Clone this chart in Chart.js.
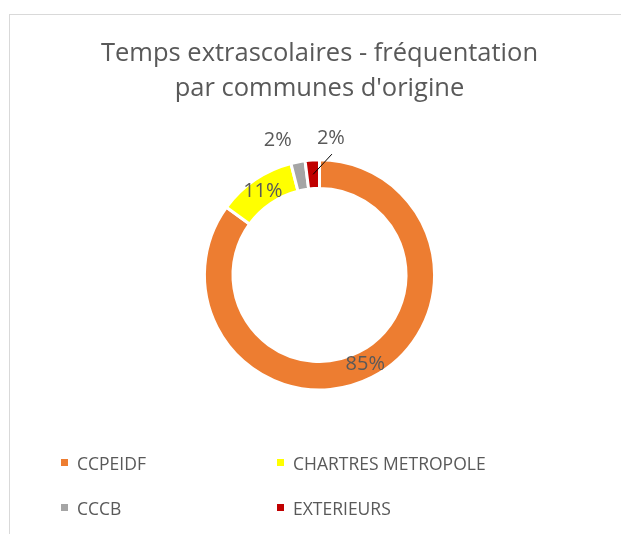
<!DOCTYPE html>
<html>
<head>
<meta charset="utf-8">
<script src="https://cdn.jsdelivr.net/npm/chart.js@4/dist/chart.umd.min.js"></script>
<style>
  html, body { margin: 0; padding: 0; background: #fff; }
  body { width: 621px; height: 534px; position: relative; overflow: hidden; font-family: "Open Sans", sans-serif; }
  #frame { position: absolute; left: 9px; top: 14px; width: 700px; height: 600px; border: 1px solid #d9d9d9; }
  #wrap { position: absolute; left: 9px; top: 0; width: 621px; height: 534px; }
  #legend { position: absolute; left: 61px; top: 440px; display: grid; grid-template-columns: 216px 216px; grid-auto-rows: 45px; color: #595959; font-size: 17.5px; }
  #legend .item { display: flex; align-items: center; }
  #legend .box { width: 7px; height: 7px; margin-right: 9px; }
</style>
</head>
<body>
<div id="frame"></div>
<div id="wrap"><canvas id="chart" width="621" height="534"></canvas></div>
<div id="legend"></div>
<script>
    // Données
    const titleLines = ['Temps extrascolaires - fréquentation', "par communes d'origine"];
    const communes = ['CCPEIDF', 'CHARTRES METROPOLE', 'CCCB', 'EXTERIEURS'];
    const pourcentages = [85, 11, 2, 2];
    const couleurs = ['#ED7D31', '#FFFF00', '#A5A5A5', '#C00000'];

    const textColor = '#595959';

    // Etiquettes de pourcentage (dans l'anneau, ou au-dessus pour les petites parts)
    const pctLabels = {
      id: 'pctLabels',
      afterDatasetsDraw(chart) {
        const ctx = chart.ctx;
        const meta = chart.getDatasetMeta(0);
        const data = chart.data.datasets[0].data;
        const total = data.reduce((a, b) => a + b, 0);
        let smallIndex = 0;
        ctx.save();
        ctx.font = '20px "Open Sans"';
        ctx.fillStyle = textColor;
        ctx.textAlign = 'center';
        ctx.textBaseline = 'middle';
        meta.data.forEach((arc, i) => {
          const p = arc.getProps(['x', 'y', 'startAngle', 'endAngle', 'innerRadius', 'outerRadius'], true);
          const mid = (p.startAngle + p.endAngle) / 2;
          const rMid = (p.innerRadius + p.outerRadius) / 2;
          const txt = Math.round(data[i] / total * 100) + '%';
          if (data[i] / total >= 0.05) {
            ctx.fillText(txt, p.x + Math.cos(mid) * rMid, p.y + Math.sin(mid) * rMid);
          } else {
            const rOut = p.outerRadius + 22;
            const shift = smallIndex === 0 ? -16 : 20;
            const lx = p.x + Math.cos(mid) * rOut + shift;
            const ly = p.y + Math.sin(mid) * rOut;
            ctx.fillText(txt, lx, ly);
            if (smallIndex > 0) {
              ctx.strokeStyle = '#000';
              ctx.lineWidth = 1;
              ctx.beginPath();
              ctx.moveTo(lx + 1, ly + 16);
              ctx.lineTo(p.x + Math.cos(mid) * rMid, p.y + Math.sin(mid) * rMid);
              ctx.stroke();
            }
            smallIndex++;
          }
        });
        ctx.restore();
      }
    };

    const ctx = document.getElementById('chart').getContext('2d');
    const chart = new Chart(ctx, {
      type: 'doughnut',
      data: {
        labels: communes,
        datasets: [{
          data: pourcentages,
          backgroundColor: couleurs,
          borderColor: '#ffffff',
          borderWidth: 3
        }]
      },
      options: {
        responsive: false,
        animation: false,
        cutout: '75.2%',
        layout: {
          padding: { left: 0, right: 0, top: 0, bottom: 142.5 }
        },
        plugins: {
          legend: { display: false },
          tooltip: { enabled: false },
          title: {
            display: true,
            text: titleLines,
            color: textColor,
            font: { family: 'Open Sans', size: 25.5, weight: 'normal', lineHeight: 1.37 },
            padding: { top: 36, bottom: 52.5 }
          }
        }
      },
      plugins: [pctLabels]
    });

    // Légende HTML
    const legend = document.getElementById('legend');
    communes.forEach((c, i) => {
      const item = document.createElement('div');
      item.className = 'item';
      item.innerHTML = '<span class="box" style="background:' + couleurs[i] + '"></span><span>' + c + '</span>';
      legend.appendChild(item);
    });
</script>
</body>
</html>
